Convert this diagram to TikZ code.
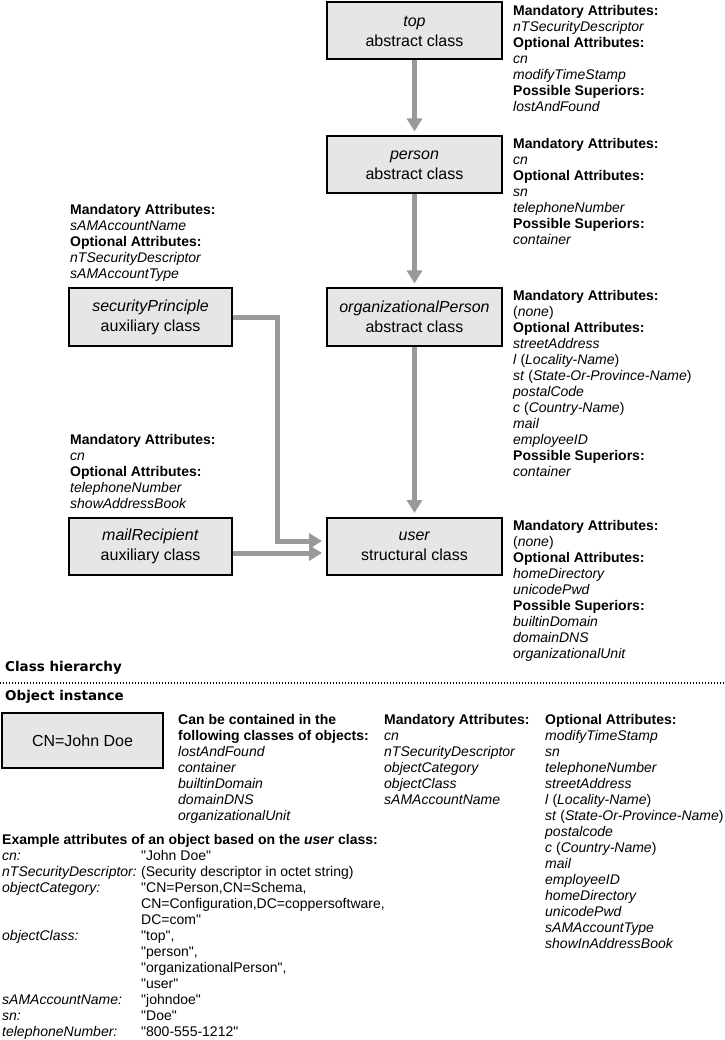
\documentclass[tikz,border=0pt]{standalone}
\usepackage{fontspec}
\setmainfont{Liberation Sans}
\newfontfamily\lib{Liberation Sans}
\newfontfamily\secfont{DejaVu Sans}
\usetikzlibrary{arrows.meta}
\definecolor{boxgray}{HTML}{E6E6E6}
\definecolor{arrgray}{HTML}{999999}
\newcommand\attrs[1]{\begin{tabular}{@{}l@{}}#1\end{tabular}}
\newcommand\hd[1]{\textbf{#1}}
\newcommand\iv[1]{\textit{#1}}
\begin{document}
\begin{tikzpicture}[x=1pt,y=-1pt,
  classbox/.style={draw=black, line width=2pt, fill=boxgray, minimum width=175pt,
    minimum height=57pt, inner sep=0pt, align=center, font=\lib\fontsize{16}{20}\selectfont},
  auxbox/.style={classbox, minimum width=163pt},
  attr/.style={anchor=north west, inner sep=0pt, font=\lib\fontsize{14}{16}\selectfont},
  section/.style={anchor=west, inner sep=0pt, font=\secfont\bfseries\fontsize{13.5}{16}\selectfont},
  arr/.style={draw=arrgray, line width=5pt, -{Triangle[width=15pt,length=13pt]}, shorten >=4pt},
  sepline/.style={line width=1.2pt, dash pattern=on 1.2pt off 1.8pt}]
\useasboundingbox (0,0) rectangle (724,1040);

% class boxes
\node[classbox] (top) at (414.5,31) {\textit{top}\\abstract class};
\node[classbox] (person) at (414.5,165) {\textit{person}\\abstract class};
\node[classbox] (orgperson) at (414.5,317) {\textit{organizationalPerson}\\abstract class};
\node[classbox] (user) at (414.5,546.5) {\textit{user}\\structural class};
\node[auxbox] (secprin) at (150.5,317) {\textit{securityPrinciple}\\auxiliary class};
\node[auxbox] (mailrec) at (150.5,546.5) {\textit{mailRecipient}\\auxiliary class};
\node[classbox, minimum width=161pt, minimum height=55pt] (cnbox) at (82.5,740.5) {CN=John Doe};

% connectors
\coordinate (turn) at (277,317);
\coordinate (in1) at (0,541);
\coordinate (in2) at (0,553);
\draw[arr] (top) -- (person);
\draw[arr] (person) -- (orgperson);
\draw[arr] (orgperson) -- (user);
\draw[arr] (secprin.east) -- (turn) |- (user.west |- in1);
\draw[arr] (mailrec.east |- in2) -- (user.west |- in2);

% attribute blocks
\node[attr] (topattr) at (513,3.8) {\attrs{\hd{Mandatory Attributes:}\\ \iv{nTSecurityDescriptor}\\ \hd{Optional Attributes:}\\ \iv{cn}\\ \iv{modifyTimeStamp}\\ \hd{Possible Superiors:}\\ \iv{lostAndFound}}};
\node[attr] (personattr) at (513,136.8) {\attrs{\hd{Mandatory Attributes:}\\ \iv{cn}\\ \hd{Optional Attributes:}\\ \iv{sn}\\ \iv{telephoneNumber}\\ \hd{Possible Superiors:}\\ \iv{container}}};
\node[attr] (orgattr) at (513,288.8) {\attrs{\hd{Mandatory Attributes:}\\ (\iv{none})\\ \hd{Optional Attributes:}\\ \iv{streetAddress}\\ \iv{l} (\iv{Locality-Name})\\ \iv{st} (\iv{State-Or-Province-Name})\\ \iv{postalCode}\\ \iv{c} (\iv{Country-Name})\\ \iv{mail}\\ \iv{employeeID}\\ \hd{Possible Superiors:}\\ \iv{container}}};
\node[attr] (userattr) at (513,518.8) {\attrs{\hd{Mandatory Attributes:}\\ (\iv{none})\\ \hd{Optional Attributes:}\\ \iv{homeDirectory}\\ \iv{unicodePwd}\\ \hd{Possible Superiors:}\\ \iv{builtinDomain}\\ \iv{domainDNS}\\ \iv{organizationalUnit}}};
\node[attr] (secattr) at (70,203.3) {\attrs{\hd{Mandatory Attributes:}\\ \iv{sAMAccountName}\\ \hd{Optional Attributes:}\\ \iv{nTSecurityDescriptor}\\ \iv{sAMAccountType}}};
\node[attr] (mailattr) at (70,433.3) {\attrs{\hd{Mandatory Attributes:}\\ \iv{cn}\\ \hd{Optional Attributes:}\\ \iv{telephoneNumber}\\ \iv{showAddressBook}}};

% sections
\node[section] (classh) at (5,668) {Class hierarchy};
\coordinate (sepL) at (0,683);
\coordinate (sepR) at (724,683);
\draw[sepline] (sepL) -- (sepR);
\node[section] (objinst) at (5,697) {Object instance};

% object instance blocks
\node[attr] (contained) at (178,712.8) {\attrs{\hd{Can be contained in the}\\ \hd{following classes of objects:}\\ \iv{lostAndFound}\\ \iv{container}\\ \iv{builtinDomain}\\ \iv{domainDNS}\\ \iv{organizationalUnit}}};
\node[attr] (mand) at (384,712.8) {\attrs{\hd{Mandatory Attributes:}\\ \iv{cn}\\ \iv{nTSecurityDescriptor}\\ \iv{objectCategory}\\ \iv{objectClass}\\ \iv{sAMAccountName}}};
\node[attr] (opt) at (545,712.8) {\attrs{\hd{Optional Attributes:}\\ \iv{modifyTimeStamp}\\ \iv{sn}\\ \iv{telephoneNumber}\\ \iv{streetAddress}\\ \iv{l} (\iv{Locality-Name})\\ \iv{st} (\iv{State-Or-Province-Name})\\ \iv{postalcode}\\ \iv{c} (\iv{Country-Name})\\ \iv{mail}\\ \iv{employeeID}\\ \iv{homeDirectory}\\ \iv{unicodePwd}\\ \iv{sAMAccountType}\\ \iv{showInAddressBook}}};

\node[attr] (example) at (2,832.8) {\begin{tabular}{@{}p{139pt}@{}l@{}}
\multicolumn{2}{@{}l@{}}{\hd{Example attributes of an object based on the \textit{user} class:}}\\
\iv{cn:} & "John Doe"\\
\iv{nTSecurityDescriptor:} & (Security descriptor in octet string)\\
\iv{objectCategory:} & "CN=Person,CN=Schema,\\
 & CN=Configuration,DC=coppersoftware,\\
 & DC=com"\\
\iv{objectClass:} & "top",\\
 & "person",\\
 & "organizationalPerson",\\
 & "user"\\
\iv{sAMAccountName:} & "johndoe"\\
\iv{sn:} & "Doe"\\
\iv{telephoneNumber:} & "800-555-1212"
\end{tabular}};
\end{tikzpicture}
\end{document}
